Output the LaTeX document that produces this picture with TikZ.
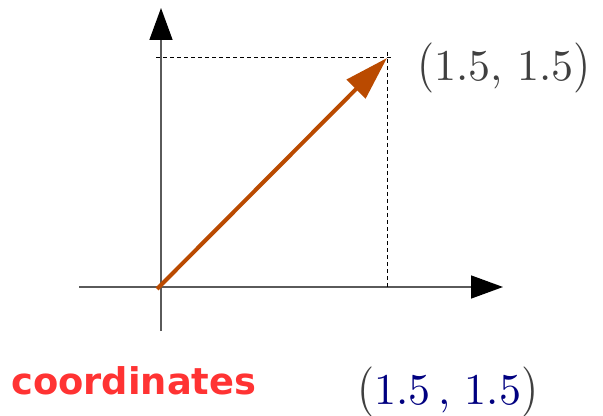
\documentclass[tikz,border=0pt]{standalone}
\usepackage{fontspec}
\usepackage{graphicx}
\newfontfamily\labelfont{DejaVu Sans}
\newfontfamily\lmten{lmroman10-regular}[Extension=.otf]
\usetikzlibrary{arrows.meta}
\definecolor{axisgray}{RGB}{90,90,90}
\definecolor{vecorange}{RGB}{186,74,0}
\definecolor{labred}{RGB}{255,51,51}
\definecolor{labgray}{RGB}{64,64,64}
\definecolor{labnavy}{RGB}{0,0,128}
\newcommand{\tallL}{\scalebox{1}[1.14]{(}}
\newcommand{\tallR}{\scalebox{1}[1.14]{)}}
\tikzset{
  axis/.style={draw=axisgray, line width=0.75pt, -{Triangle[length=16pt,width=11.5pt,fill=black,color=black]}},
  vec/.style={draw=vecorange, line width=2pt, -{Triangle[length=22pt,width=13pt]}},
  guide/.style={draw=black, line width=0.5pt, dash pattern=on 2pt off 1.5pt},
  toplabel/.style={text=labgray, inner sep=0pt, font=\lmten\fontsize{22}{26}\selectfont},
  botlabel/.style={inner sep=0pt, font=\lmten\fontsize{22}{26}\selectfont},
  titlelabel/.style={text=labred, inner sep=0pt, font=\labelfont\bfseries\fontsize{18.4}{22}\selectfont}
}
\begin{document}
\begin{tikzpicture}[x=0.5pt,y=-0.5pt]
\useasboundingbox (0,0) rectangle (603,416);
\coordinate (xstart) at (79,287);
\coordinate (xend) at (503,287);
\coordinate (ystart) at (161,331);
\coordinate (yend) at (161,8);
\coordinate (o) at (157,289);
\coordinate (p) at (387,58);
\coordinate (hl) at (156,58);
\coordinate (hr) at (391,58);
\coordinate (vt) at (387,52);
\coordinate (vb) at (387,287);
\draw[axis] (xstart) -- (xend);
\draw[axis] (ystart) -- (yend);
\draw[guide] (hl) -- (hr);
\draw[guide] (vt) -- (vb);
\draw[vec] (o) -- (p);
\node[toplabel, anchor=base west] (ptlabel) at (417,81) {\tallL1.5, 1.5\tallR};
\node[titlelabel, anchor=base west] (title) at (11,394) {coordinates};
\node[botlabel, anchor=base west] (coord) at (357,404) {\textcolor{labgray}{\tallL}\textcolor{labnavy}{1.5\,, 1.5}\textcolor{labgray}{\tallR}};
\end{tikzpicture}
\end{document}
